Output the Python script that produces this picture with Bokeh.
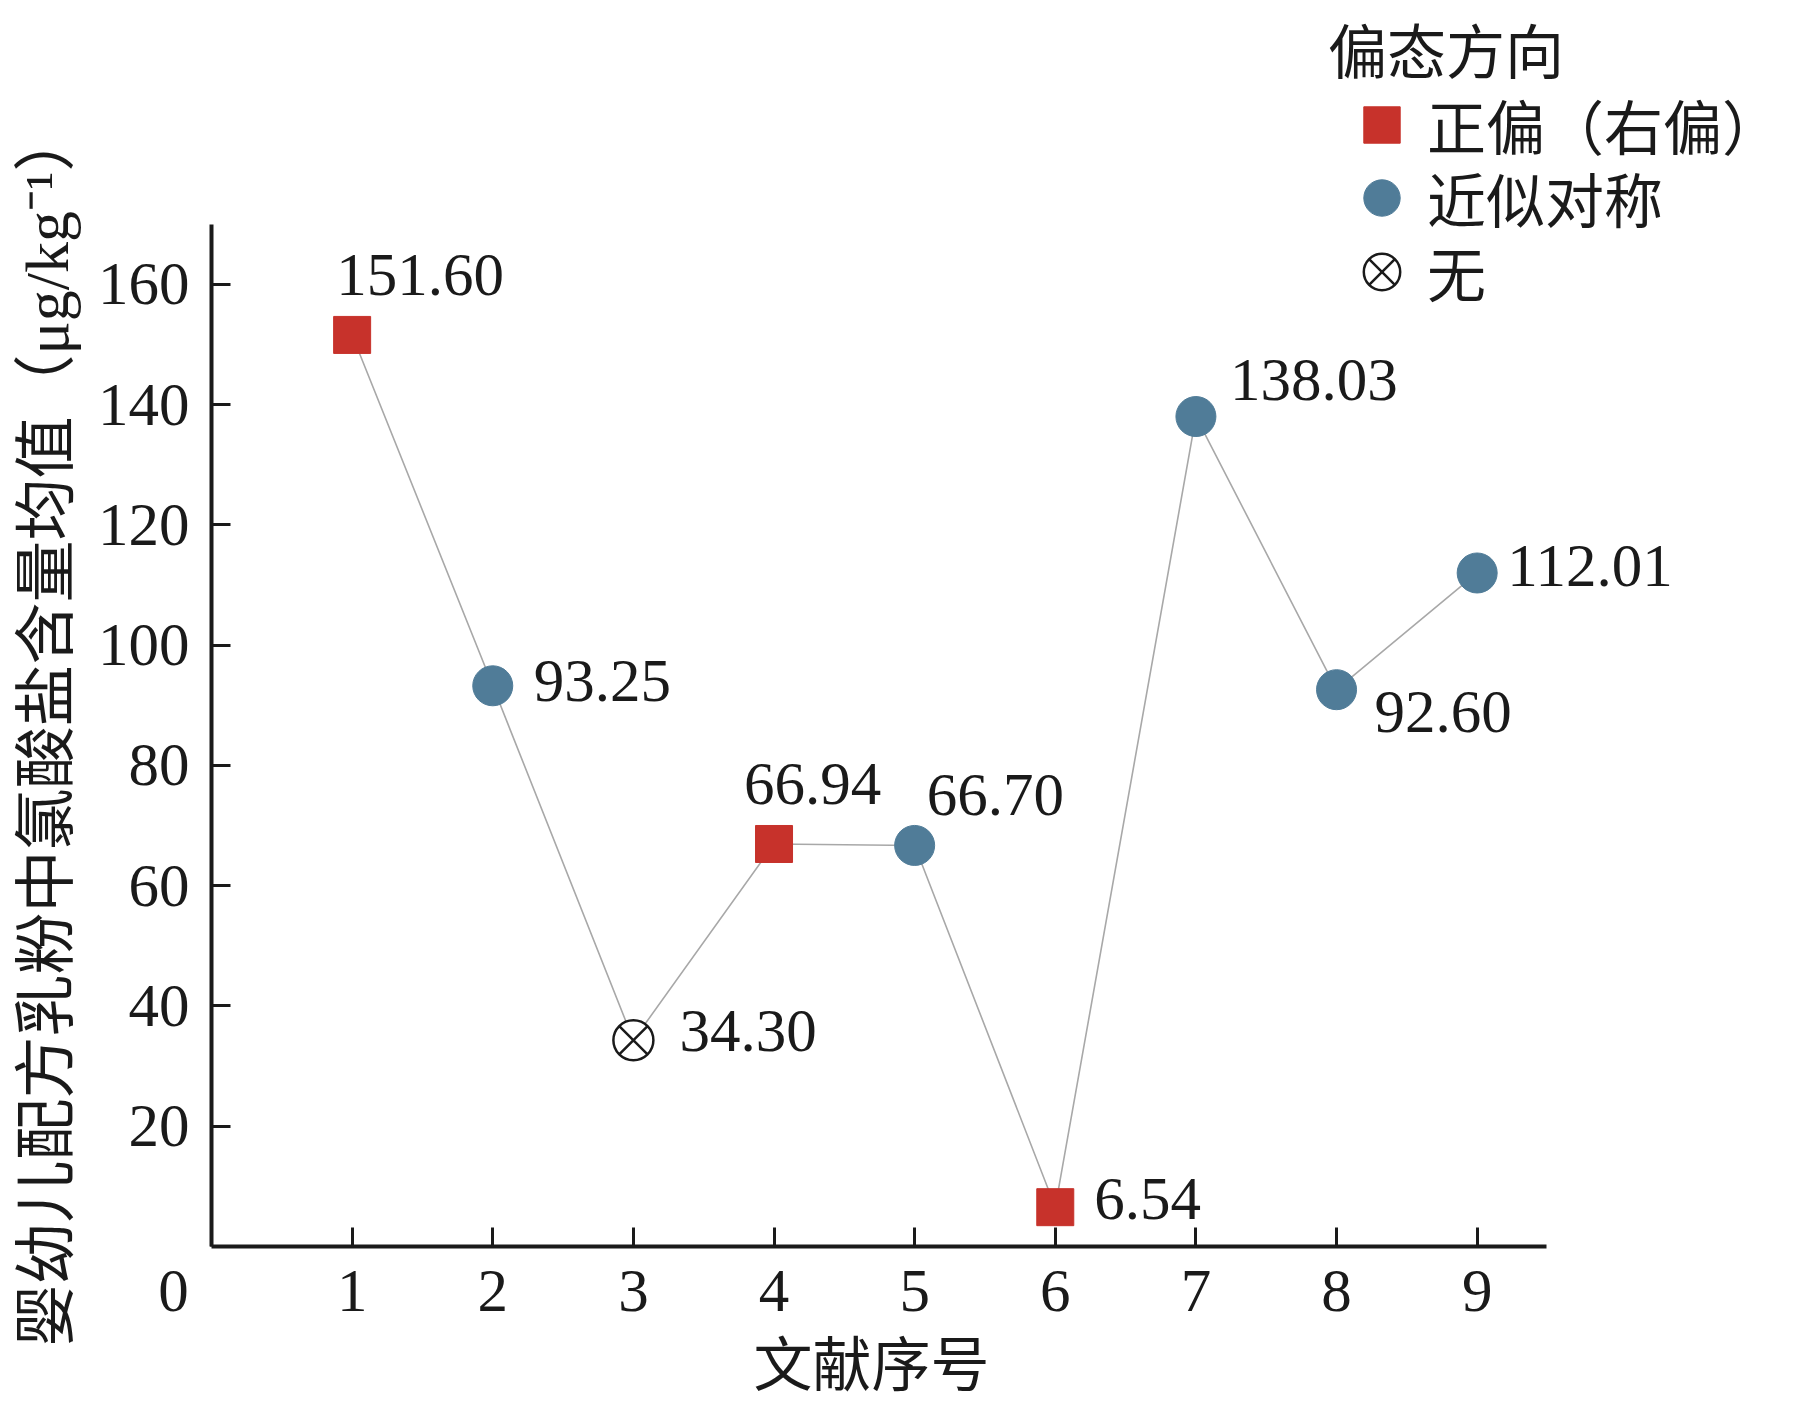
from bokeh.plotting import figure
from bokeh.models import Range1d, FixedTicker, Legend, LegendItem, ColumnDataSource, Title
from bokeh.embed import file_html
from bokeh.resources import INLINE
from bokeh.core.properties import value

# ---------------- data ----------------
ref_no = [1, 2, 3, 4, 5, 6, 7, 8, 9]
mean_vals = [151.60, 93.25, 34.30, 66.94, 66.70, 6.54, 138.03, 92.60, 112.01]
skew_type = ["正偏（右偏）", "近似对称", "无", "正偏（右偏）", "近似对称",
             "正偏（右偏）", "近似对称", "近似对称", "近似对称"]
value_text = ["151.60", "93.25", "34.30", "66.94", "66.70", "6.54", "138.03", "92.60", "112.01"]
x_ticks = [0, 1, 2, 3, 4, 5, 6, 7, 8, 9]
y_ticks = [20, 40, 60, 80, 100, 120, 140, 160]
x_axis_end = 9.49
y_axis_end = 170
legend_title = "偏态方向"
legend_order = ["正偏（右偏）", "近似对称", "无"]
x_title = "文献序号"
y_title = "婴幼儿配方乳粉中氯酸盐含量均值（μg/kg⁻¹）"

# ---------------- styles ----------------
S = 0.988
def px(v):
    return round(v * S)

# label offsets in screen px (dx, dy; dy positive = down)
lab_dx = [-16, 41, 47, -30, 12, 39, 34, 38, 30]
lab_dy = [-61, -5, -9, -61, -51, -8, -37, 22, -7]
# legend geometry (reference px from top-left)
legend_rows_y = [128, 202, 277]
legend_marker_x = 1396
legend_title_xy = (1342, 59)

RED = "#C7322B"
BLUE = "#507C98"
INK = "#1a1a1a"
SERIF = "'Liberation Serif', 'Noto Sans CJK SC'"
NBSP = "\u00a0"

W, H = px(1812), px(1423)
LEFT, BOTTOM = px(212), px(160)
FRAME_L, FRAME_B = 212, 1263     # reference px
UNIT_X = 142.5   # px per x unit (reference)
UNIT_Y = 6.095   # px per y unit (reference)

p = figure(width=W, height=H, output_backend="svg", toolbar_location=None,
           x_range=Range1d(0, (1812 - FRAME_L) / UNIT_X),
           y_range=Range1d(0, FRAME_B / UNIT_Y),
           min_border_left=LEFT, min_border_right=0,
           min_border_top=0, min_border_bottom=BOTTOM)
p.outline_line_color = None
p.xgrid.grid_line_color = None
p.ygrid.grid_line_color = None
p.background_fill_color = "white"
p.border_fill_color = "white"

for ax in (p.xaxis[0], p.yaxis[0]):
    ax.axis_line_width = 4
    ax.axis_line_color = INK
    ax.major_tick_line_width = 3
    ax.major_tick_line_color = INK
    ax.major_tick_in = px(19)
    ax.major_tick_out = 0
    ax.minor_tick_line_color = None
    ax.major_label_text_font = SERIF
    ax.major_label_text_font_size = f"{px(62)}px"
    ax.major_label_text_color = INK

p.xaxis.bounds = (0, x_axis_end)
p.yaxis.bounds = (0, y_axis_end)
p.xaxis.ticker = FixedTicker(ticks=x_ticks)
p.yaxis.ticker = FixedTicker(ticks=y_ticks)
# the shared origin "0" sits left of the corner: pad with no-break spaces
p.xaxis.major_label_overrides = {0: "0" + NBSP * 5}
p.xaxis.major_label_standoff = px(10)
p.yaxis.major_label_standoff = px(22)

# axis titles as side titles so they can be placed along the drawn axes
xt = Title(text=x_title, align="left", offset=px(763 - 2 - FRAME_L),
           vertical_align="top", standoff=px(12),
           text_font=SERIF, text_font_size=f"{px(60)}px",
           text_font_style="normal", text_color=INK)
p.add_layout(xt, "below")
yt = Title(text=y_title, align="left", offset=px(FRAME_B - 1364),
           vertical_align="top", standoff=px(24),
           text_font=SERIF, text_font_size=f"{px(63)}px",
           text_font_style="normal", text_color=INK)
p.add_layout(yt, "left")

# connecting line
line_r = p.line(ref_no, mean_vals, line_color="#A8A8A8", line_width=1.6)

marker_style = {
    "正偏（右偏）": dict(marker="square", size=px(37), fill_color=RED, line_color=RED, line_width=1),
    "近似对称": dict(marker="circle", size=px(40), fill_color=BLUE, line_color=BLUE, line_width=1),
    "无": dict(marker="circle_x", size=px(40), fill_color="white", line_color=INK, line_width=2.5),
}

renderers = {}
for cat in legend_order:
    xs = [x for x, c in zip(ref_no, skew_type) if c == cat]
    ys = [y for y, c in zip(mean_vals, skew_type) if c == cat]
    renderers[cat] = p.scatter(xs, ys, **marker_style[cat])

# value labels
src = ColumnDataSource(dict(x=ref_no, y=mean_vals, t=value_text,
                            dx=[px(v) for v in lab_dx], dy=[px(v) for v in lab_dy]))
p.text(x="x", y="y", text="t", x_offset="dx", y_offset="dy", source=src,
       text_font=value("Liberation Serif"), text_font_size=f"{px(62)}px",
       text_align="left", text_baseline="middle", text_color=INK)

common = dict(label_text_font=SERIF, label_text_font_size=f"{px(60)}px",
              label_text_color=INK, spacing=0, padding=0, margin=0,
              border_line_color=None, background_fill_alpha=0)

# legend heading: a glyph-less row
LH = 70
tl = Legend(items=[LegendItem(label=legend_title, renderers=[line_r])],
            location=(px(legend_title_xy[0]) - px(FRAME_L),
                      px(FRAME_B - (legend_title_xy[1] + LH / 2))),
            glyph_width=0, glyph_height=1, label_standoff=0, **common)
p.add_layout(tl, "center")

# legend rows: one Legend per row so the rows can sit closer than the glyph box
GW, GH = 92, 100
for i, cat in enumerate(legend_order):
    lg = Legend(items=[LegendItem(label=cat, renderers=[renderers[cat]])],
                location=(px(legend_marker_x - GW / 2) - px(FRAME_L),
                          px(FRAME_B - (legend_rows_y[i] + GH / 2))),
                glyph_width=px(GW), glyph_height=px(GH), label_standoff=0, **common)
    p.add_layout(lg, "center")

open("out.html", "w").write(file_html(p, INLINE))
